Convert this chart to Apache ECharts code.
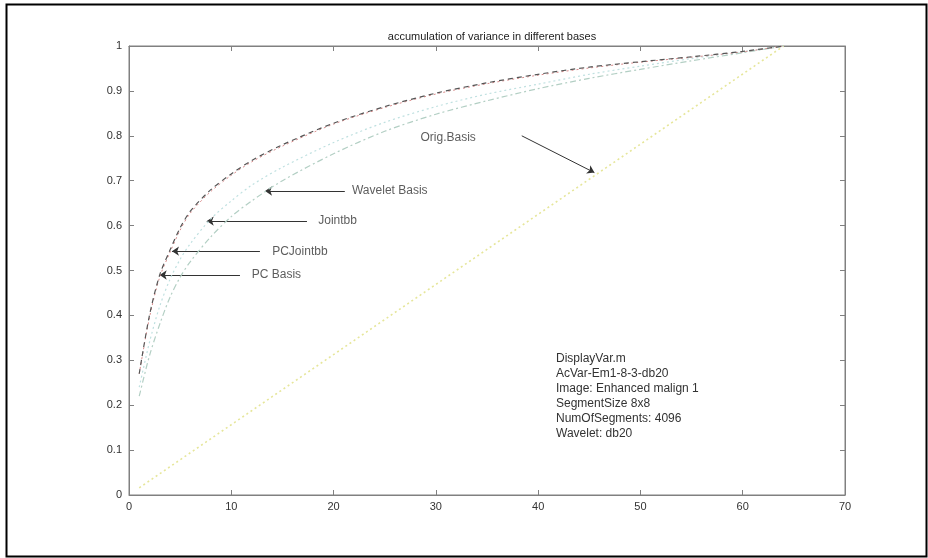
<!DOCTYPE html>
<html>
<head>
<meta charset="utf-8">
<title>accumulation of variance in different bases</title>
<script src="https://cdn.jsdelivr.net/npm/echarts@6/dist/echarts.min.js"></script>
<style>
  html, body { margin: 0; padding: 0; background: #ffffff; }
  #chart { width: 928px; height: 558px; }
</style>
</head>
<body>
<div id="chart"></div>
<script>
// Number of retained coefficients (x) for each curve
const coeffCount = [1, 2, 3, 4, 5, 6, 8, 10, 12, 15, 20, 25, 30, 35, 40, 45, 50, 55, 60, 64];

// Cumulative fraction of variance captured in each basis
const pcBasis      = [0.27, 0.40, 0.49, 0.545, 0.595, 0.632, 0.680, 0.715, 0.745, 0.780, 0.828, 0.865, 0.895, 0.918, 0.937, 0.953, 0.965, 0.976, 0.988, 1.0];
const pcJointbb    = [0.27, 0.395, 0.485, 0.540, 0.590, 0.628, 0.676, 0.712, 0.742, 0.777, 0.826, 0.863, 0.893, 0.916, 0.935, 0.951, 0.964, 0.975, 0.987, 1.0];
const jointbb      = [0.24, 0.34, 0.42, 0.48, 0.525, 0.560, 0.615, 0.655, 0.690, 0.730, 0.785, 0.830, 0.865, 0.893, 0.915, 0.937, 0.955, 0.972, 0.987, 1.0];
const waveletBasis = [0.22, 0.31, 0.38, 0.44, 0.485, 0.520, 0.575, 0.620, 0.655, 0.700, 0.760, 0.810, 0.848, 0.878, 0.905, 0.928, 0.948, 0.967, 0.985, 1.0];

// Original pixel basis: straight accumulation from the first to the last coefficient
const origCount = [1, 64];
const origBasis = [0.016, 1.0];

// Tick labels
const xTicks = ['0', '10', '20', '30', '40', '50', '60', '70'];
const yTicks = ['0', '0.1', '0.2', '0.3', '0.4', '0.5', '0.6', '0.7', '0.8', '0.9', '1'];

// Run information printed inside the axes
const infoLines = [
  'DisplayVar.m',
  'AcVar-Em1-8-3-db20',
  'Image: Enhanced malign 1',
  'SegmentSize 8x8',
  'NumOfSegments: 4096',
  'Wavelet: db20'
];

// Curve names with arrow tail/head and text anchor, in axis units
const callouts = [
  { name: 'Orig.Basis',    text: [28.5, 0.795], tail: [38.4, 0.800], head: [45.5, 0.718] },
  { name: 'Wavelet Basis', text: [21.8, 0.677], tail: [21.1, 0.677], head: [13.3, 0.677] },
  { name: 'Jointbb',       text: [18.5, 0.610], tail: [17.4, 0.610], head: [7.6, 0.610] },
  { name: 'PCJointbb',     text: [14.0, 0.543], tail: [12.8, 0.543], head: [4.2, 0.543] },
  { name: 'PC Basis',      text: [12.0, 0.490], tail: [10.85, 0.490], head: [3.0, 0.490] }
];

const FONT = '"Liberation Sans", Arial, Helvetica, sans-serif';
const AXIS_COLOR = '#808080';

function pairs(xs, ys) { return xs.map((x, i) => [x, ys[i]]); }

// Fresh axis definition each time so no nested objects are shared between axes
function makeAxis(position, min, max, interval, label) {
  return {
    type: 'value',
    position: position,
    min: min, max: max, interval: interval,
    axisLine: { show: true, onZero: false, lineStyle: { color: AXIS_COLOR, width: 1 } },
    axisTick: { show: true, inside: true, length: 5, lineStyle: { color: AXIS_COLOR, width: 1 } },
    splitLine: { show: false },
    axisLabel: label
  };
}

const chart = echarts.init(document.getElementById('chart'), null, { renderer: 'canvas' });

const option = {
  animation: false,
  backgroundColor: '#ffffff',
  title: {
    text: 'accumulation of variance in different bases',
    left: 487, top: 26, textAlign: 'center',
    textStyle: { fontFamily: FONT, fontSize: 11, fontWeight: 'normal', color: '#222' }
  },
  grid: {
    left: 129, right: 83, top: 46, bottom: 63, containLabel: false,
    show: true, borderColor: AXIS_COLOR, borderWidth: 1, backgroundColor: 'transparent'
  },
  xAxis: [
    makeAxis('bottom', 0, 70, 10, {
      show: true, margin: 6, fontFamily: FONT, fontSize: 11, color: '#333',
      formatter: (v) => xTicks[Math.round(v / 10)]
    }),
    makeAxis('top', 0, 70, 10, { show: false })
  ],
  yAxis: [
    makeAxis('left', 0, 1, 0.1, {
      show: true, margin: 7, fontFamily: FONT, fontSize: 11, color: '#333',
      formatter: (v) => yTicks[Math.round(v * 10)]
    }),
    makeAxis('right', 0, 1, 0.1, { show: false })
  ],
  series: [
    {
      name: 'Orig.Basis', type: 'line', data: pairs(origCount, origBasis),
      showSymbol: false, lineStyle: { color: '#e6e69a', width: 1.6, type: [2, 3] }
    },
    {
      name: 'Wavelet Basis', type: 'line', smooth: 0.3, data: pairs(coeffCount, waveletBasis),
      showSymbol: false, lineStyle: { color: '#b3cfc4', width: 1.2, type: [6, 3, 2, 3] }
    },
    {
      name: 'Jointbb', type: 'line', smooth: 0.3, data: pairs(coeffCount, jointbb),
      showSymbol: false, lineStyle: { color: '#bfe0e0', width: 1.2, type: [2, 3] }
    },
    {
      name: 'PCJointbb', type: 'line', smooth: 0.3, data: pairs(coeffCount, pcJointbb),
      showSymbol: false, lineStyle: { color: '#d98a8a', width: 1, type: [2, 3] }
    },
    {
      name: 'PC Basis', type: 'line', smooth: 0.3, data: pairs(coeffCount, pcBasis),
      showSymbol: false, lineStyle: { color: '#555555', width: 1.2, type: [5, 4] }
    },
    {
      // callout arrows
      name: 'callouts', type: 'lines', coordinateSystem: 'cartesian2d', silent: true,
      symbol: ['none', 'arrow'], symbolSize: 7,
      lineStyle: { color: '#333', width: 1, opacity: 1 },
      data: callouts.map(c => ({ coords: [c.tail, c.head] }))
    },
    {
      // callout text
      name: 'callout labels', type: 'scatter', symbolSize: 0, silent: true,
      data: callouts.map(c => ({ value: c.text, name: c.name })),
      label: {
        show: true, position: 'right', distance: 0,
        formatter: (p) => p.name,
        fontFamily: FONT, fontSize: 12, color: '#333'
      }
    }
  ],
  graphic: [
    {
      type: 'rect', left: 4, top: 2, silent: true,
      shape: { width: 920, height: 552 },
      style: { fill: 'none', stroke: '#000', lineWidth: 2 }
    },
    {
      type: 'text', left: 556, top: 351, silent: true,
      style: {
        text: infoLines.join('\n'), fontFamily: FONT, fontSize: 12,
        lineHeight: 15, fill: '#333'
      }
    }
  ]
};

chart.setOption(option);
</script>
</body>
</html>
